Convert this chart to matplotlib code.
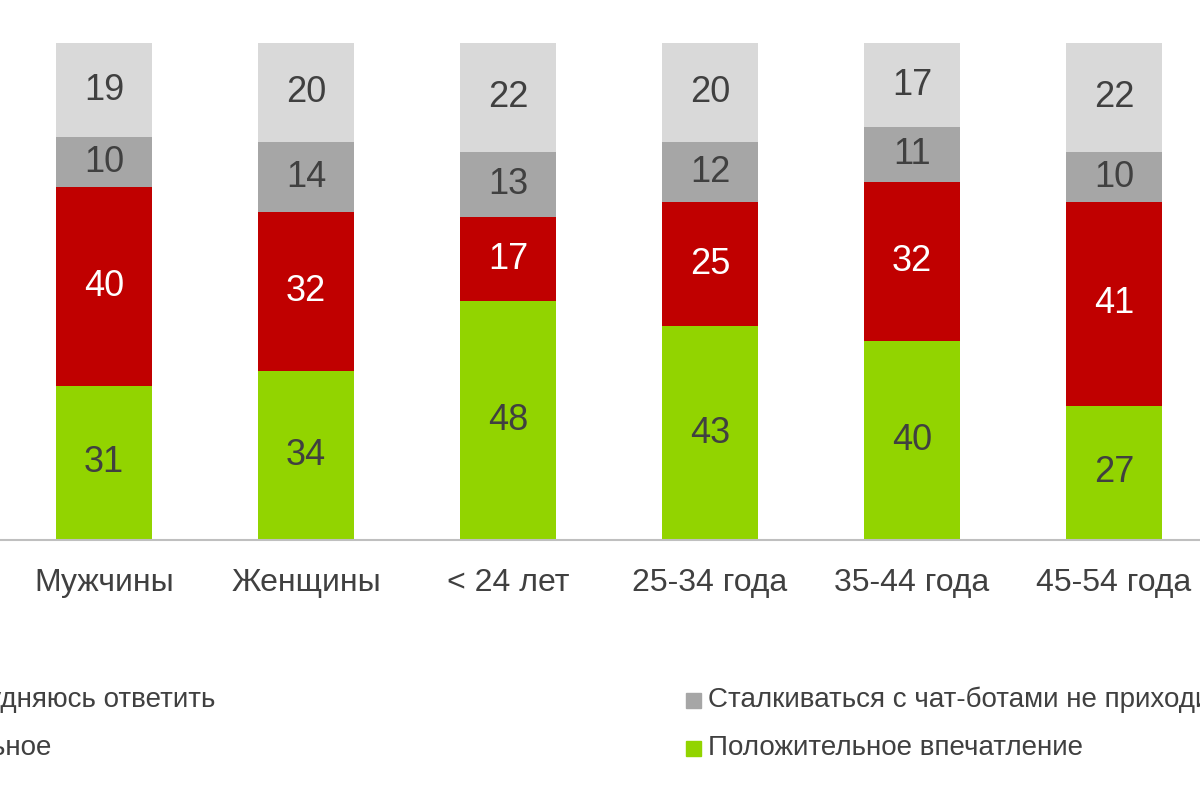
import matplotlib
matplotlib.use("Agg")
import matplotlib.pyplot as plt

categories = ["Мужчины", "Женщины", "< 24 лет", "25-34 года", "35-44 года", "45-54 года"]
positive = [31, 34, 48, 43, 40, 27]
negative = [40, 32, 17, 25, 32, 41]
no_contact = [10, 14, 13, 12, 11, 10]
hard = [19, 20, 22, 20, 17, 22]

series = [
    (positive, "#92d400", "#404040"),
    (negative, "#c00000", "white"),
    (no_contact, "#a6a6a6", "#404040"),
    (hard, "#d9d9d9", "#404040"),
]

plt.rcParams["font.family"] = "Liberation Sans"
fig = plt.figure(figsize=(12, 8), dpi=100)
ax = fig.add_axes([0, 0.325, 1, 0.675])
x = list(range(len(categories)))
bottom = [0] * len(categories)
for vals, col, tcol in series:
    ax.bar(x, vals, width=0.48, bottom=bottom, color=col)
    for i, v in enumerate(vals):
        ax.text(i, bottom[i] + v / 2, str(v), ha="center", va="center",
                fontsize=26, color=tcol)
    bottom = [b + v for b, v in zip(bottom, vals)]

ax.set_xlim(-104 / 202, (1200 - 104) / 202)
ax.set_ylim(0, 100 * 540 / 497)
for s in ["top", "right", "left"]:
    ax.spines[s].set_visible(False)
ax.spines["bottom"].set_color("#bfbfbf")
ax.spines["bottom"].set_linewidth(1.5)
ax.set_yticks([])
ax.set_xticks(x)
ax.set_xticklabels(categories, fontsize=23, color="#404040")
ax.tick_params(axis="x", length=0, pad=20)

# legend (partly outside the visible area, as in the reference)
fig.text(215 / 1200, 1 - 700 / 800, "Затрудняюсь ответить", ha="right", va="center", fontsize=20, color="#404040")
fig.text(52 / 1200, 1 - 748 / 800, "Отрицательное", ha="right", va="center", fontsize=20, color="#404040")
for ypx, col, lab in [(700, "#a6a6a6", "Сталкиваться с чат-ботами не приходилось"),
                      (748, "#92d400", "Положительное впечатление")]:
    fig.patches.append(plt.Rectangle((686 / 1200, 1 - (ypx + 8) / 800), 15 / 1200, 15 / 800,
                                     transform=fig.transFigure, color=col))
    fig.text(708 / 1200, 1 - ypx / 800, lab, ha="left", va="center", fontsize=20, color="#404040")

fig.savefig("out.png")
